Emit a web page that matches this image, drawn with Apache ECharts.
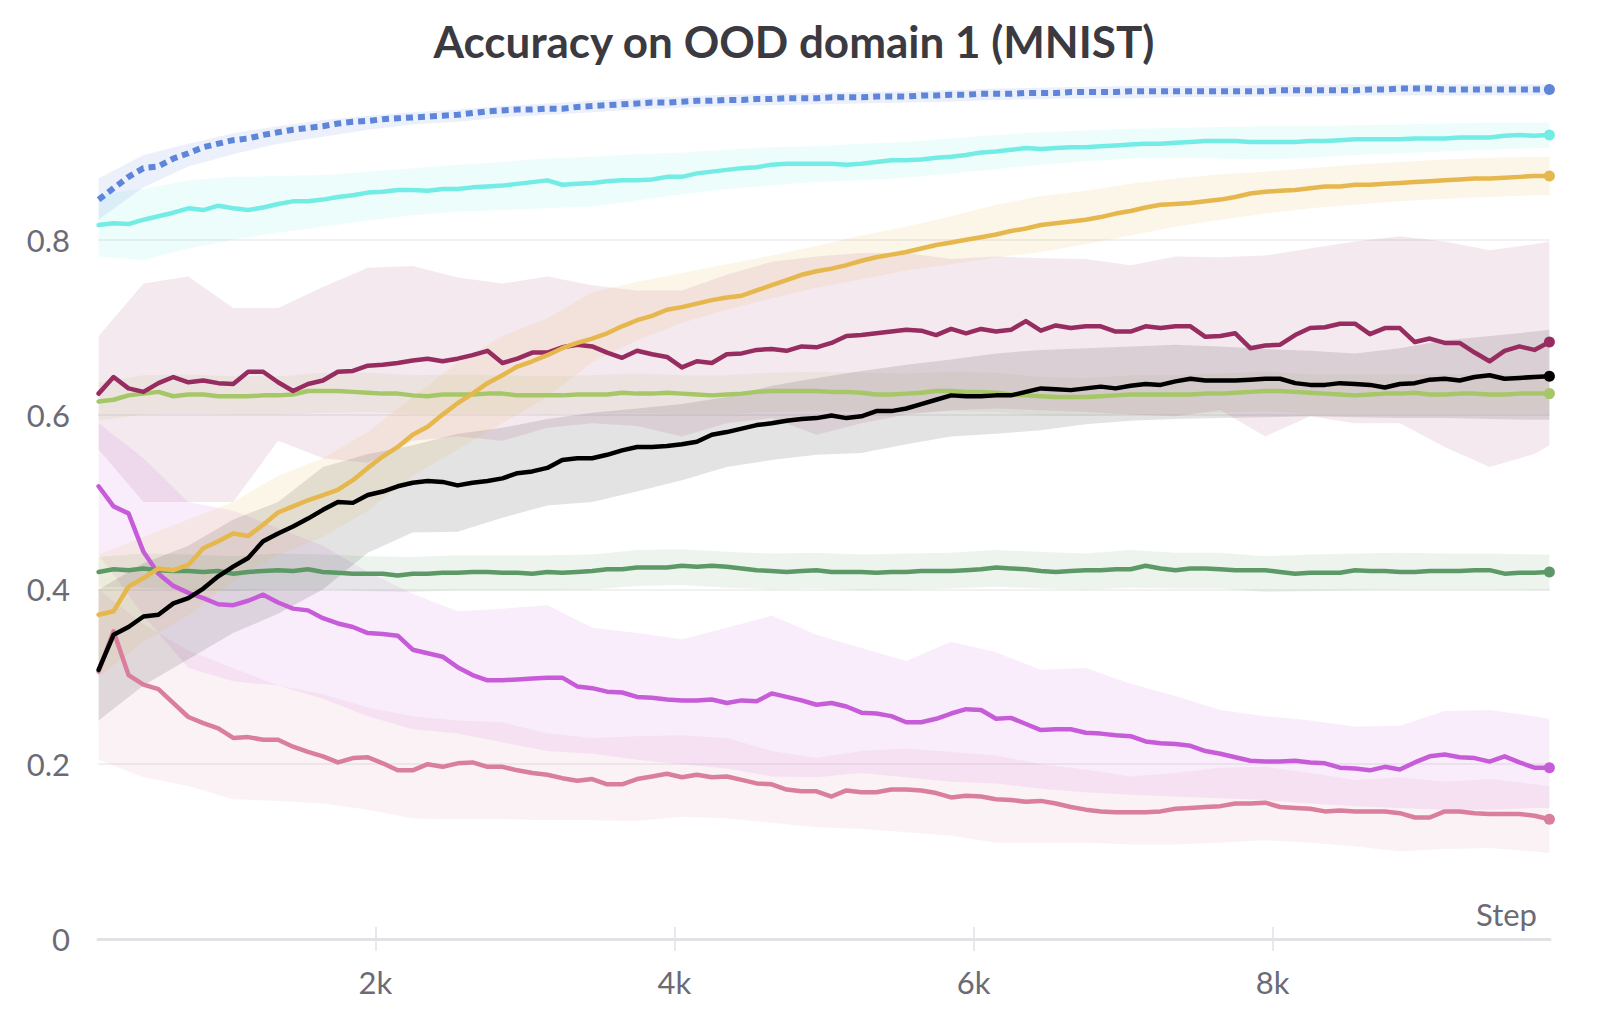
<!DOCTYPE html>
<html><head><meta charset="utf-8">
<script src="https://cdn.jsdelivr.net/npm/echarts@6/dist/echarts.min.js"></script>
<style>html,body{margin:0;padding:0;background:#fff}#c{width:1612px;height:1028px}</style>
</head><body><div id="c"></div>
<script>
// ---- data ----
const steps = [150,250,350,450,550,650,750,850,950,1050,1150,1250,1350,1450,1550,1650,1750,1850,1950,2050,2150,2250,2350,2450,2550,2650,2750,2850,2950,3050,3150,3250,3350,3450,3550,3650,3750,3850,3950,4050,4150,4250,4350,4450,4550,4650,4750,4850,4950,5050,5150,5250,5350,5450,5550,5650,5750,5850,5950,6050,6150,6250,6350,6450,6550,6650,6750,6850,6950,7050,7150,7250,7350,7450,7550,7650,7750,7850,7950,8050,8150,8250,8350,8450,8550,8650,8750,8850,8950,9050,9150,9250,9350,9450,9550,9650,9750,9850];
const xTicks = [2000,4000,6000,8000];
const title = 'Accuracy on OOD domain 1 (MNIST)';

const blue = [0.846,0.859,0.872,0.882,0.884,0.893,0.899,0.906,0.910,0.914,0.916,0.920,0.923,0.926,0.928,0.930,0.933,0.935,0.936,0.938,0.939,0.940,0.941,0.942,0.943,0.945,0.947,0.948,0.949,0.949,0.950,0.950,0.952,
 0.953,0.954,0.955,0.956,0.957,0.957,0.958,0.959,0.959,0.960,0.960,0.961,0.961,0.962,0.962,0.962,0.963,0.963,0.963,0.964,0.964,0.964,0.965,0.965,0.966,0.966,0.967,0.967,0.967,0.968,0.968,0.968,
 0.969,0.969,0.969,0.969,0.970,0.970,0.970,0.970,0.970,0.970,0.970,0.970,0.970,0.970,0.971,0.971,0.971,0.971,0.971,0.971,0.972,0.972,0.973,0.973,0.973,0.972,0.972,0.972,0.972,0.972,0.972,0.972,0.972];
const cyan = [0.817,0.819,0.818,0.823,0.827,0.831,0.836,0.834,0.839,0.836,0.834,0.837,0.841,0.844,0.844,0.846,0.849,0.851,0.854,0.855,0.857,0.857,0.856,0.858,0.858,0.860,0.861,0.862,0.864,0.866,0.868,0.863,0.864,
 0.865,0.867,0.868,0.868,0.869,0.872,0.872,0.876,0.878,0.880,0.882,0.883,0.886,0.887,0.887,0.887,0.887,0.886,0.887,0.889,0.891,0.891,0.892,0.894,0.895,0.897,0.900,0.901,0.903,0.905,0.904,0.905,
 0.906,0.906,0.907,0.908,0.909,0.910,0.910,0.911,0.912,0.913,0.913,0.913,0.912,0.912,0.912,0.912,0.913,0.913,0.914,0.915,0.915,0.915,0.915,0.916,0.916,0.916,0.917,0.917,0.917,0.919,0.920,0.919,0.920];
const gold = [0.371,0.375,0.403,0.413,0.424,0.422,0.428,0.447,0.455,0.464,0.461,0.474,0.488,0.495,0.502,0.508,0.514,0.525,
 0.539,0.552,0.563,0.577,0.586,0.600,0.613,0.624,0.636,0.645,0.655,0.661,0.668,0.676,0.682,
 0.687,0.693,0.701,0.708,0.713,0.720,0.723,0.727,0.731,0.734,0.736,0.742,0.748,0.754,0.760,0.764,0.767,0.771,0.776,0.780,0.783,0.786,0.790,0.794,0.797,0.800,0.803,0.806,0.810,0.813,0.817,0.819,
 0.821,0.823,0.826,0.830,0.833,0.837,0.840,0.841,0.842,0.844,0.846,0.849,0.853,0.855,0.856,0.857,0.859,0.861,0.861,0.863,0.863,0.864,0.865,0.866,0.867,0.868,0.869,0.870,0.870,0.871,0.872,0.873,0.873];
const maroon = [0.624,0.643,0.630,0.626,0.636,0.643,0.637,0.639,0.636,0.635,0.649,0.649,0.637,0.627,0.635,0.639,0.649,0.650,0.656,0.657,0.659,0.662,0.664,0.661,0.664,0.668,0.673,0.659,0.664,0.671,0.671,0.677,0.680,
 0.678,0.671,0.665,0.673,0.669,0.666,0.654,0.661,0.659,0.669,0.670,0.674,0.675,0.673,0.678,0.677,0.682,0.690,0.691,0.693,0.695,0.697,0.696,0.691,0.698,0.693,0.698,0.695,0.697,0.707,0.696,
 0.702,0.699,0.701,0.701,0.695,0.695,0.701,0.699,0.701,0.701,0.689,0.690,0.693,0.676,0.679,0.680,0.691,0.699,0.700,0.704,0.704,0.692,0.699,0.699,0.683,0.687,0.682,0.682,0.671,0.661,0.673,0.678,0.674,0.683];
const black = [0.308,0.348,0.357,0.369,0.371,0.384,0.390,0.401,0.415,0.426,0.436,0.455,0.464,0.472,0.481,0.491,0.500,0.499,0.508,0.512,0.518,0.522,0.524,0.523,0.519,0.522,0.524,
 0.527,0.533,0.535,0.539,0.548,0.550,
 0.550,0.554,0.559,0.563,0.563,0.564,0.566,0.569,0.577,0.580,0.584,0.588,0.590,0.593,0.595,0.596,0.599,0.596,0.598,0.604,0.604,0.607,0.612,0.617,0.622,0.621,0.621,0.622,0.622,0.626,0.630,0.629,
 0.628,0.630,0.632,0.630,0.633,0.635,0.634,0.638,0.641,0.639,0.639,0.639,0.640,0.641,0.641,0.636,0.634,0.634,0.636,0.635,0.634,0.631,0.635,0.636,0.640,0.641,0.639,0.643,0.645,0.641,0.642,0.643,0.644];
const lightGreen = [0.615,0.617,0.622,0.624,0.626,0.621,0.623,0.623,0.621,0.621,0.621,0.622,0.622,0.623,0.627,0.627,0.627,0.626,0.625,0.624,0.624,0.622,0.621,0.623,0.623,0.623,0.624,0.624,0.622,0.622,0.622,0.622,0.623,
 0.623,0.623,0.625,0.624,0.624,0.625,0.624,0.623,0.622,0.623,0.624,0.626,0.627,0.627,0.627,0.627,0.626,0.626,0.625,0.623,0.623,0.624,0.625,0.627,0.627,0.626,0.626,0.625,0.623,0.622,0.621,0.620,
 0.620,0.620,0.621,0.622,0.623,0.623,0.623,0.623,0.623,0.624,0.624,0.625,0.626,0.627,0.627,0.626,0.625,0.624,0.623,0.622,0.623,0.624,0.624,0.625,0.623,0.623,0.624,0.624,0.623,0.623,0.624,0.624,0.624];
const darkGreen = [0.420,0.423,0.422,0.424,0.422,0.421,0.421,0.420,0.421,0.418,0.420,0.421,0.422,0.421,0.423,0.420,0.419,0.418,0.418,0.418,0.416,0.418,0.418,0.419,0.419,0.420,0.420,0.419,0.419,0.418,0.420,0.419,0.420,
 0.421,0.423,0.423,0.425,0.425,0.425,0.427,0.426,0.427,0.426,0.424,0.422,0.421,0.420,0.421,0.422,0.420,0.420,0.420,0.419,0.420,0.420,0.421,0.421,0.421,0.422,0.423,0.425,0.424,0.423,0.421,0.420,
 0.421,0.422,0.422,0.423,0.423,0.427,0.424,0.422,0.424,0.424,0.423,0.422,0.422,0.422,0.420,0.418,0.419,0.419,0.419,0.422,0.421,0.421,0.420,0.420,0.421,0.421,0.421,0.422,0.422,0.418,0.419,0.419,0.420];
const magenta = [0.518,0.495,0.487,0.443,0.418,0.404,0.396,0.390,0.383,0.382,0.387,0.394,0.385,0.378,0.376,0.367,0.361,0.357,0.350,0.349,0.347,0.331,0.327,0.323,0.311,0.302,0.296,0.296,0.297,0.298,0.299,0.299,0.289,
 0.287,0.283,0.282,0.277,0.276,0.274,0.273,0.273,0.274,0.270,0.273,0.272,0.281,0.277,0.273,0.268,0.270,0.266,0.259,0.258,0.255,0.248,0.248,0.252,0.258,0.263,0.262,0.252,0.253,0.246,0.239,
 0.240,0.240,0.236,0.235,0.233,0.232,0.226,0.224,0.223,0.221,0.215,0.212,0.208,0.204,0.203,0.203,0.204,0.202,0.201,0.196,0.195,0.193,0.197,0.194,0.202,0.209,0.211,0.208,0.207,0.203,0.209,0.202,0.196,0.196];
const pink = [0.306,0.352,0.302,0.291,0.286,0.270,0.254,0.247,0.241,0.230,0.231,0.228,0.228,0.220,0.214,0.209,0.202,0.207,0.208,0.201,0.193,0.193,0.200,0.197,0.201,0.202,0.197,0.197,0.193,0.190,0.188,0.184,0.181,
 0.183,0.177,0.177,0.183,0.186,0.189,0.185,0.188,0.185,0.186,0.182,0.178,0.177,0.171,0.169,0.169,0.163,0.170,0.168,0.168,0.171,0.171,0.170,0.167,0.162,0.164,0.163,0.160,0.159,0.157,0.158,
 0.155,0.151,0.148,0.146,0.145,0.145,0.145,0.146,0.149,0.150,0.151,0.152,0.155,0.155,0.156,0.151,0.150,0.149,0.146,0.147,0.146,0.146,0.146,0.144,0.139,0.139,0.146,0.146,0.144,0.143,0.143,0.143,0.141,0.137];

// min/max bands (sampled every 300 steps)
const bandSteps = [150,450,750,1050,1350,1650,1950,2250,2550,2850,3150,3450,3750,4050,4350,4650,4950,5250,5550,5850,6150,6450,6750,7050,7350,7650,7950,8250,8550,8850,9150,9450,9750,9850];
const blueLo = [0.823,0.860,0.884,0.898,0.910,0.918,0.926,0.932,0.935,0.940,0.943,0.946,0.949,0.951,0.953,0.954,0.955,0.956,0.957,0.958,0.960,0.961,0.962,0.962,0.963,0.963,0.964,0.964,0.965,0.965,0.965,0.965,0.965,0.965];
const blueHi = [0.870,0.897,0.910,0.922,0.930,0.937,0.942,0.946,0.949,0.953,0.956,0.959,0.962,0.964,0.966,0.967,0.968,0.969,0.970,0.971,0.973,0.974,0.975,0.976,0.976,0.976,0.977,0.977,0.978,0.978,0.978,0.978,0.978,0.978];
const cyanLo = [0.781,0.777,0.790,0.800,0.808,0.815,0.822,0.828,0.832,0.834,0.836,0.838,0.845,0.852,0.858,0.862,0.866,0.868,0.871,0.876,0.881,0.886,0.890,0.893,0.894,0.893,0.892,0.894,0.897,0.899,0.901,0.903,0.905,0.905];
const cyanHi = [0.852,0.858,0.868,0.872,0.873,0.874,0.878,0.882,0.886,0.889,0.893,0.895,0.898,0.900,0.903,0.906,0.907,0.910,0.912,0.916,0.920,0.923,0.925,0.927,0.928,0.929,0.930,0.930,0.931,0.932,0.933,0.934,0.934,0.934];
const goldLo = [0.30,0.34,0.37,0.41,0.44,0.46,0.49,0.53,0.56,0.59,0.62,0.66,0.685,0.705,0.72,0.733,0.745,0.755,0.765,0.772,0.78,0.786,0.795,0.805,0.815,0.823,0.83,0.836,0.84,0.844,0.847,0.849,0.851,0.851];
const goldHi = [0.44,0.46,0.48,0.50,0.53,0.55,0.58,0.62,0.66,0.69,0.71,0.74,0.752,0.762,0.772,0.782,0.793,0.805,0.815,0.827,0.84,0.85,0.856,0.864,0.870,0.875,0.878,0.882,0.886,0.889,0.892,0.894,0.895,0.895];
const maroonLo = [0.56,0.50,0.50,0.50,0.57,0.55,0.545,0.57,0.575,0.57,0.585,0.59,0.587,0.575,0.59,0.596,0.577,0.59,0.60,0.605,0.607,0.605,0.603,0.600,0.598,0.605,0.575,0.598,0.59,0.59,0.563,0.54,0.555,0.565];
const maroonHi = [0.69,0.75,0.758,0.722,0.722,0.746,0.768,0.770,0.757,0.750,0.758,0.748,0.742,0.742,0.76,0.775,0.781,0.785,0.785,0.778,0.781,0.779,0.778,0.771,0.781,0.780,0.782,0.79,0.798,0.804,0.798,0.788,0.795,0.798];
const blackLo = [0.25,0.29,0.32,0.35,0.372,0.40,0.442,0.465,0.466,0.482,0.496,0.50,0.512,0.525,0.540,0.548,0.554,0.556,0.566,0.575,0.578,0.582,0.589,0.593,0.595,0.596,0.597,0.598,0.597,0.596,0.596,0.595,0.594,0.594];
const blackHi = [0.40,0.43,0.45,0.48,0.50,0.54,0.555,0.565,0.578,0.585,0.595,0.602,0.607,0.612,0.62,0.633,0.642,0.65,0.657,0.663,0.67,0.674,0.676,0.678,0.680,0.678,0.675,0.673,0.670,0.676,0.685,0.690,0.695,0.697];
const lightGreenLo = [0.593,0.600,0.601,0.600,0.600,0.602,0.603,0.601,0.601,0.601,0.600,0.601,0.602,0.601,0.601,0.603,0.604,0.603,0.602,0.604,0.603,0.599,0.598,0.600,0.600,0.602,0.604,0.601,0.601,0.601,0.601,0.601,0.601,0.601];
const lightGreenHi = [0.637,0.645,0.646,0.644,0.644,0.648,0.648,0.645,0.646,0.645,0.644,0.645,0.647,0.645,0.645,0.648,0.649,0.648,0.647,0.649,0.648,0.643,0.642,0.645,0.645,0.647,0.649,0.646,0.646,0.646,0.646,0.646,0.646,0.646];
const darkGreenLo = [0.403,0.402,0.400,0.398,0.400,0.400,0.398,0.397,0.399,0.399,0.399,0.400,0.404,0.405,0.402,0.400,0.401,0.399,0.400,0.401,0.403,0.401,0.400,0.402,0.401,0.401,0.397,0.398,0.399,0.400,0.400,0.400,0.399,0.399];
const darkGreenHi = [0.437,0.441,0.440,0.438,0.441,0.440,0.438,0.437,0.439,0.439,0.439,0.440,0.445,0.446,0.443,0.441,0.442,0.440,0.441,0.442,0.445,0.443,0.441,0.445,0.442,0.442,0.438,0.440,0.441,0.442,0.441,0.441,0.440,0.440];
const magentaLo = [0.44,0.37,0.31,0.295,0.29,0.275,0.255,0.24,0.235,0.225,0.215,0.212,0.205,0.20,0.195,0.186,0.185,0.19,0.185,0.18,0.178,0.172,0.168,0.165,0.163,0.161,0.159,0.155,0.152,0.150,0.148,0.148,0.150,0.150];
const magentaHi = [0.59,0.55,0.50,0.49,0.47,0.45,0.42,0.395,0.375,0.378,0.382,0.356,0.350,0.343,0.356,0.37,0.348,0.333,0.318,0.340,0.328,0.308,0.31,0.292,0.278,0.262,0.255,0.25,0.243,0.244,0.261,0.262,0.255,0.252];
const pinkLo = [0.205,0.185,0.175,0.16,0.158,0.155,0.148,0.138,0.137,0.137,0.136,0.136,0.135,0.14,0.138,0.133,0.128,0.126,0.122,0.118,0.110,0.110,0.110,0.108,0.108,0.110,0.113,0.110,0.106,0.100,0.103,0.104,0.100,0.098];
const pinkHi = [0.40,0.36,0.33,0.31,0.29,0.28,0.265,0.255,0.25,0.248,0.235,0.23,0.232,0.233,0.23,0.215,0.207,0.215,0.218,0.214,0.21,0.20,0.194,0.186,0.19,0.196,0.197,0.19,0.182,0.185,0.18,0.183,0.177,0.175];

// ---- chart ----
const chart = echarts.init(document.getElementById('c'), null, {renderer: 'svg'});
const FONT = 'Lato';
const LABEL = '#6b6b76';

function lineSeries(vals, color, extra) {
  const data = vals.map((v, i) => i === vals.length - 1
    ? {value: [steps[i], v], symbol: 'circle', symbolSize: 11}
    : [steps[i], v]);
  return Object.assign({
    type: 'line', data, symbol: 'none', showSymbol: true, showAllSymbol: true,
    lineStyle: {color, width: 4.5, cap: 'round', join: 'round'}, itemStyle: {color},
    z: 3, animation: false, silent: true
  }, extra || {});
}
function bandSeries(lo, hi, fill) {
  return {
    type: 'custom', silent: true, z: 1, animation: false,
    data: [[bandSteps[0], lo[0]]],
    renderItem(params, api) {
      const pts = [];
      for (let i = 0; i < bandSteps.length; i++) pts.push(api.coord([bandSteps[i], hi[i]]));
      for (let i = bandSteps.length - 1; i >= 0; i--) pts.push(api.coord([bandSteps[i], lo[i]]));
      return {type: 'polygon', shape: {points: pts}, style: {fill}};
    }
  };
}

const xMin = 146, xMax = 9854;
chart.setOption({
  backgroundColor: '#ffffff',
  animation: false,
  title: {
    text: title, left: 789, top: 14, textAlign: 'center',
    textStyle: {fontSize: 44, fontWeight: 'bold', color: '#3a3a40', fontFamily: FONT}
  },
  grid: {left: 98, right: 62, top: 65, bottom: 89},
  xAxis: [{
    type: 'value', min: xMin, max: xMax,
    axisLine: {lineStyle: {color: '#e2e2e6', width: 3}},
    axisTick: {show: true, length: 12, customValues: xTicks, lineStyle: {color: '#e2e2e6', width: 1.5}},
    axisLabel: {customValues: xTicks, formatter: v => (v / 1000) + 'k', color: LABEL, fontSize: 31, margin: 27, fontFamily: FONT},
    splitLine: {show: false},
    name: 'Step', nameLocation: 'end', nameGap: 0,
    nameTextStyle: {color: LABEL, fontSize: 31, fontFamily: FONT, align: 'right', verticalAlign: 'bottom', padding: [0, 13, 10, 0]}
  }, {
    type: 'value', min: xMin, max: xMax, position: 'top', offset: -874,
    axisLine: {show: false},
    axisTick: {show: true, length: 12, customValues: xTicks, lineStyle: {color: '#e2e2e6', width: 1.5}},
    axisLabel: {show: false}, splitLine: {show: false}
  }],
  yAxis: {
    type: 'value', min: 0, max: 1, interval: 0.2,
    axisLine: {show: false}, axisTick: {show: false},
    axisLabel: {color: LABEL, fontSize: 31, margin: 28, fontFamily: FONT, showMaxLabel: false},
    splitLine: {lineStyle: {color: ['#ececee', '#ececee', '#ececee', '#ececee', '#ececee', 'rgba(0,0,0,0)'], width: 1.5}}
  },
  series: [
    bandSeries(pinkLo, pinkHi, 'rgba(217,126,155,0.10)'),
    bandSeries(magentaLo, magentaHi, 'rgba(200,92,216,0.11)'),
    bandSeries(darkGreenLo, darkGreenHi, 'rgba(93,153,102,0.11)'),
    bandSeries(lightGreenLo, lightGreenHi, 'rgba(166,199,103,0.10)'),
    bandSeries(blackLo, blackHi, 'rgba(0,0,0,0.11)'),
    bandSeries(maroonLo, maroonHi, 'rgba(150,44,95,0.10)'),
    bandSeries(goldLo, goldHi, 'rgba(230,183,76,0.12)'),
    bandSeries(cyanLo, cyanHi, 'rgba(114,236,229,0.13)'),
    bandSeries(blueLo, blueHi, 'rgba(94,133,217,0.12)'),
    lineSeries(pink, '#d97e9c'),
    lineSeries(magenta, '#c75cd8'),
    lineSeries(darkGreen, '#5d9966'),
    lineSeries(lightGreen, '#a6c767'),
    lineSeries(black, '#000000'),
    lineSeries(maroon, '#962c5f'),
    lineSeries(gold, '#e6b74c'),
    lineSeries(cyan, '#72ece5'),
    lineSeries(blue, '#5e85d9', {lineStyle: {color: '#5e85d9', width: 6, type: [7, 5], cap: 'butt'}})
  ]
});
</script>
</body></html>
